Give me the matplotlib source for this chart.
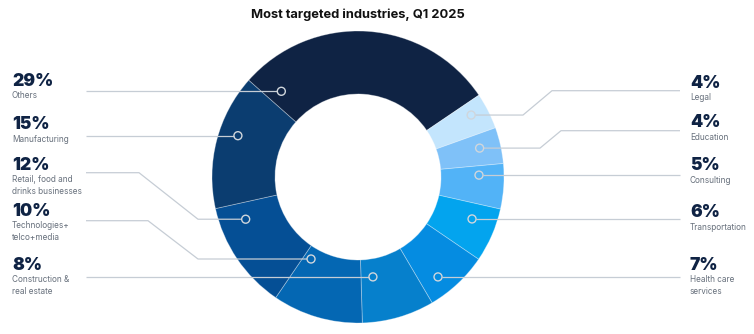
import numpy as np
import matplotlib.pyplot as plt

# data, in clockwise order starting at the top-left
categories = ['Others', 'Legal', 'Education', 'Consulting', 'Transportation',
              'Health care\nservices', 'Construction &\nreal estate',
              'Technologies+\ntelco+media', 'Retail, food and\ndrinks businesses',
              'Manufacturing']
values = [29, 4, 4, 5, 6, 7, 8, 10, 12, 15]

colors = ['#0f2344', '#c3e5fd', '#7fc1f8', '#52b3f7', '#03a4ee',
          '#058ce1', '#0680cc', '#0467b3', '#054f95', '#0b3d70']

# label layout (image pixel coords, y down)
side = ['L', 'R', 'R', 'R', 'R', 'R', 'L', 'L', 'L', 'L']
num_y = [81, 83.5, 122.5, 166, 212.5, 265.5, 265.5, 211.5, 165.5, 124.5]
dot_frac = [0.064, 0.375, 0.44, 0.245, 0.347, 0.675, 0.764, 0.875, 0.8125, 0.583]
dot_r = [115, 129, 125, 121, 121.5, 128, 101, 94.5, 120, 127]
# bent leaders: (label line y, x where horizontal ends, x where diagonal ends)
bends = {1: (90.7, 552, 523), 2: (130.7, 561, 540),
         7: (220.7, 148, 198), 8: (172.7, 139, 198)}

cx, cy = 358, 177
navy = '#0f2344'
grey_line = '#c6cdd5'

plt.rcParams['font.family'] = ['Inter', 'DejaVu Sans']

fig = plt.figure(figsize=(7.54, 3.34), dpi=100)
ax = fig.add_axes([0, 0, 1, 1])

# y axis inverted -> counterclock in data is clockwise on screen
wedges, _ = ax.pie(values, colors=colors, startangle=-138.5, counterclock=True,
                   radius=146, center=(cx, cy), frame=True,
                   wedgeprops=dict(width=63, edgecolor=(1, 1, 1, 0.35), linewidth=0.6))

ax.set_xlim(0, 754)
ax.set_ylim(334, 0)
ax.set_aspect('equal')
ax.axis('off')

for i, w in enumerate(wedges):
    a = np.deg2rad(w.theta1 + dot_frac[i] * (w.theta2 - w.theta1))
    dx = cx + dot_r[i] * np.cos(a)
    dy = cy + dot_r[i] * np.sin(a)

    if side[i] == 'L':
        end_x, tx, ha_off = 86, 12, -4
    else:
        end_x, tx, ha_off = 680, 690, 4

    if i in bends:
        ly, bx1, bx2 = bends[i]
        xs = [end_x, bx1, bx2, dx + ha_off]
        ys = [ly, ly, dy, dy]
    else:
        xs = [end_x, dx + ha_off]
        ys = [dy, dy]
    ax.plot(xs, ys, color=grey_line, lw=0.9, solid_capstyle='butt', zorder=3)
    ax.add_patch(plt.Circle((dx, dy), 4, facecolor='none', edgecolor='#d0d6dc',
                            lw=1.0, zorder=4))

    ax.text(tx, num_y[i], f'{values[i]}%', fontsize=12.5, fontweight='black',
            color=navy, ha='left', va='center')
    ax.text(tx, num_y[i] + 10, categories[i], fontsize=5.9, color='#67707c',
            ha='left', va='top', linespacing=1.3)

ax.text(cx, 15, 'Most targeted industries, Q1 2025', fontsize=9.3,
        fontweight='bold', color='#111111', ha='center', va='center')

fig.savefig('out.png', dpi=100)
